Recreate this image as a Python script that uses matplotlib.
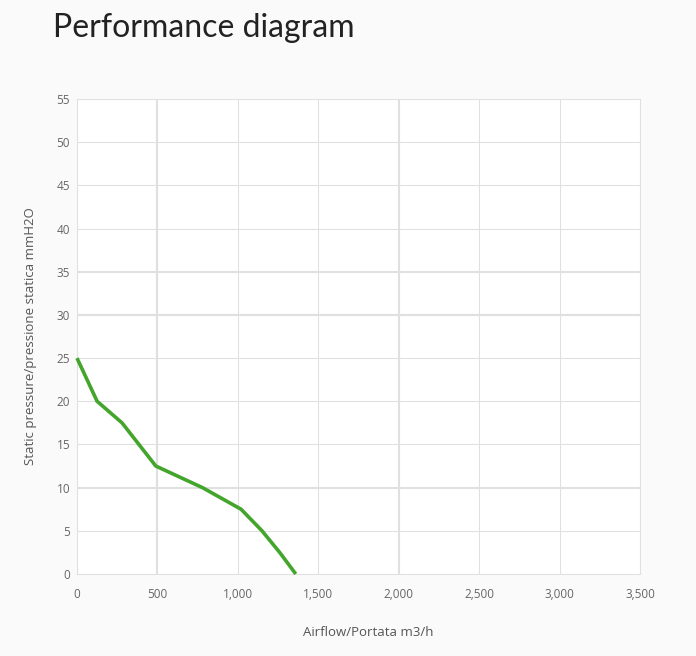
import matplotlib
matplotlib.use("Agg")
import matplotlib.pyplot as plt
from matplotlib.ticker import FuncFormatter

airflow = [0, 125, 280, 490, 780, 1020, 1150, 1260, 1360]
pressure = [25, 20, 17.5, 12.5, 10, 7.5, 5, 2.5, 0]
x_ticks = [0, 500, 1000, 1500, 2000, 2500, 3000, 3500]
y_ticks = [0, 5, 10, 15, 20, 25, 30, 35, 40, 45, 50, 55]
thick_x = [500, 2000]
thick_y = [10, 30, 35]

title = "Performance diagram"
xlabel = "Airflow/Portata m3/h"
ylabel = "Static pressure/pressione statica mmH2O"

bg = "#fafafa"
fig = plt.figure(figsize=(6.96, 6.56), dpi=100, facecolor=bg)
ax = fig.add_axes([77/696, 82/656, (640-77)/696, (574-99)/656])
ax.set_facecolor("white")

ax.set_xlim(0, 3500)
ax.set_ylim(0, 55)
ax.set_xticks(x_ticks)
ax.set_yticks(y_ticks)
ax.xaxis.set_major_formatter(FuncFormatter(lambda v, p: f"{int(v):,}"))

for v in x_ticks:
    lw = 2.0 if v in thick_x else 1.0
    ax.axvline(v, color="#e0e0e0", lw=lw * 0.75, zorder=0)
for v in y_ticks:
    lw = 2.0 if v in thick_y else 1.0
    ax.axhline(v, color="#e0e0e0", lw=lw * 0.75, zorder=0)

for s in ax.spines.values():
    s.set_color("#e0e0e0")
    s.set_linewidth(0.75)

ax.tick_params(length=0, labelsize=8.5, labelcolor="#666666")
ax.tick_params(axis="x", pad=10)
ax.tick_params(axis="y", pad=5)
for lab in ax.get_xticklabels() + ax.get_yticklabels():
    lab.set_family(["Open Sans", "DejaVu Sans"])

ax.plot(airflow, pressure, color="#44a52c", lw=2.6, solid_capstyle="butt",
        solid_joinstyle="miter", zorder=3, clip_on=False)

fig.text(53/696, 1 - 28/656, title, fontsize=23, color="#222222",
         family=["Lato", "DejaVu Sans"], va="center", ha="left")
fig.text(368/696, 1 - 632/656, xlabel, fontsize=9.5, color="#555555",
         family=["Open Sans", "DejaVu Sans"], va="center", ha="center")
fig.text(31/696, 1 - 336/656, ylabel, fontsize=9.5, color="#555555",
         family=["Open Sans", "DejaVu Sans"], va="center", ha="center",
         rotation=90)

fig.savefig("out.png", dpi=100, facecolor=bg)
